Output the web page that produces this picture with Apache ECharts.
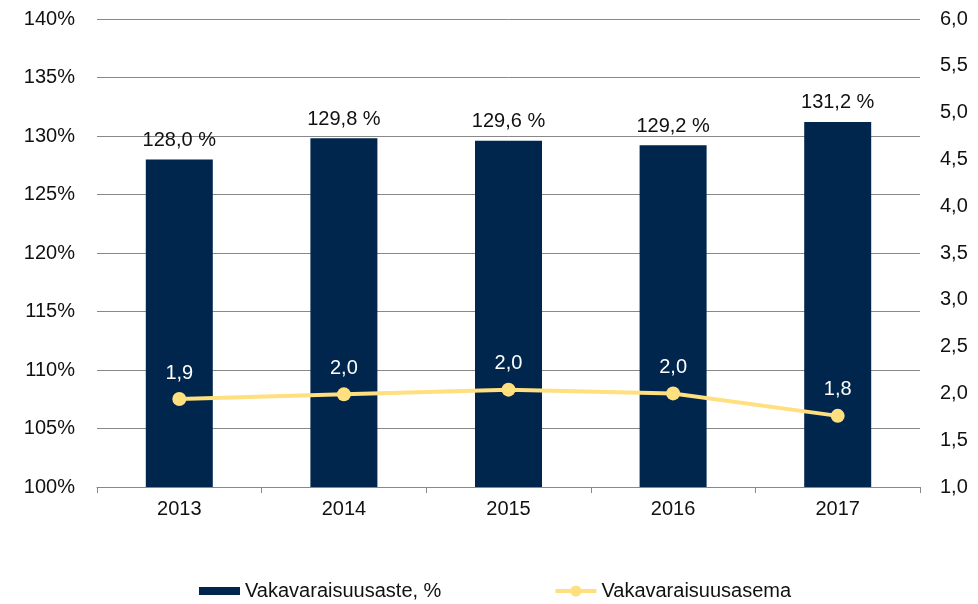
<!DOCTYPE html>
<html>
<head>
<meta charset="utf-8">
<script src="https://cdn.jsdelivr.net/npm/echarts@6/dist/echarts.min.js"></script>
<style>
    html, body { margin: 0; padding: 0; background: #fff; }
    #chart { width: 978px; height: 604px; }
</style>
</head>
<body>
<div id="chart"></div>
<script>
var years = ['2013', '2014', '2015', '2016', '2017'];
var ratioPct = [128.0, 129.8, 129.6, 129.2, 131.2];
var solvencyPos = [1.94, 1.99, 2.04, 2.0, 1.76];

var fontFamily = '"Liberation Sans", Arial, sans-serif';
var comma = function(v, d) { return v.toFixed(d).replace('.', ','); };

var chart = echarts.init(document.getElementById('chart'));
chart.setOption({
    animation: false,
    textStyle: { fontFamily: fontFamily },
    grid: { left: 97, right: 58, top: 19, bottom: 117 },
    legend: {
        left: 194,
        top: 576,
        itemWidth: 41,
        itemHeight: 14,
        itemGap: 112,
        textStyle: { fontSize: 20, color: '#111', fontFamily: fontFamily },
        data: [
            { name: 'Vakavaraisuusaste, %', icon: 'path://M0,0h41v8h-41z' },
            { name: 'Vakavaraisuusasema', lineStyle: { width: 4 } }
        ]
    },
    xAxis: {
        type: 'category',
        data: years,
        axisLine: { lineStyle: { color: '#888', width: 1 } },
        axisTick: { show: true, length: 6, lineStyle: { color: '#888' } },
        axisLabel: { fontSize: 20, color: '#111', margin: 12 }
    },
    yAxis: [{
        type: 'value',
        min: 100,
        max: 140,
        interval: 5,
        axisLine: { show: false },
        axisTick: { show: false },
        splitLine: { lineStyle: { color: '#888', width: 1 } },
        axisLabel: { fontSize: 20, color: '#111', margin: 22, formatter: '{value}%' }
    }, {
        type: 'value',
        min: 1,
        max: 6,
        interval: 0.5,
        axisLine: { show: false },
        axisTick: { show: false },
        splitLine: { show: false },
        axisLabel: { fontSize: 20, color: '#111', margin: 20, formatter: function(v) { return comma(v, 1); } }
    }],
    series: [{
        name: 'Vakavaraisuusaste, %',
        type: 'bar',
        data: ratioPct,
        barWidth: 67,
        itemStyle: { color: '#00264D' },
        label: {
            show: true,
            position: 'top',
            distance: 9,
            fontSize: 20,
            color: '#111',
            formatter: function(p) { return comma(p.value, 1) + ' %'; }
        }
    }, {
        name: 'Vakavaraisuusasema',
        type: 'line',
        yAxisIndex: 1,
        data: solvencyPos,
        symbol: 'circle',
        symbolSize: 14,
        lineStyle: { color: '#FFDF7E', width: 4 },
        itemStyle: { color: '#FFDF7E' },
        label: {
            show: true,
            position: 'top',
            distance: 9,
            fontSize: 20,
            color: '#fff',
            formatter: function(p) { return comma(p.value, 1); }
        }
    }]
});
</script>
</body>
</html>
